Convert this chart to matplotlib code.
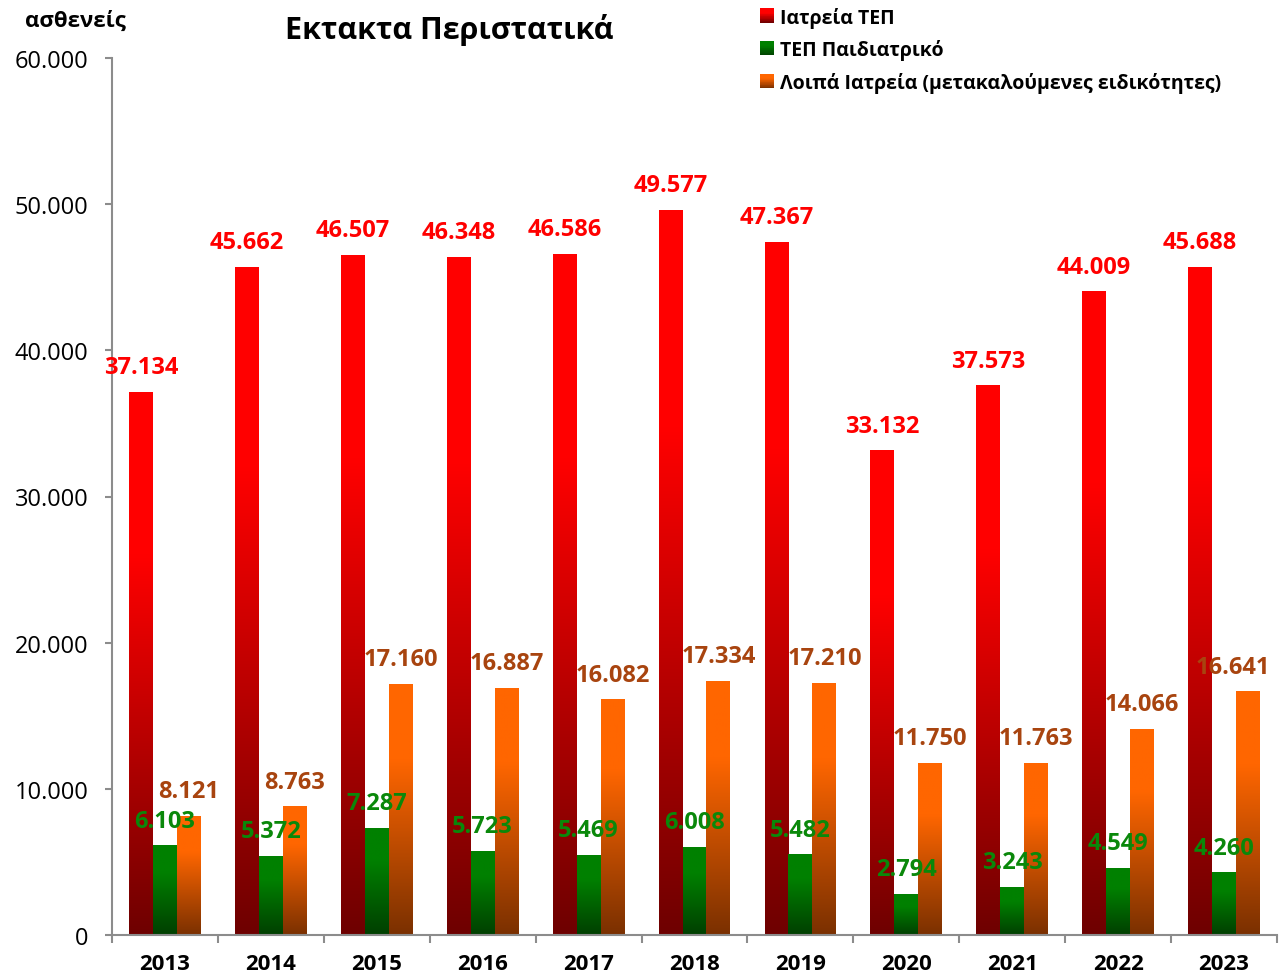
import numpy as np
import matplotlib
matplotlib.use("Agg")
import matplotlib.pyplot as plt
from matplotlib.colors import LinearSegmentedColormap
from matplotlib.patches import Rectangle, Patch
from matplotlib.ticker import FuncFormatter

plt.rcParams['font.family'] = ['Open Sans', 'DejaVu Sans']

years = ['2013', '2014', '2015', '2016', '2017', '2018', '2019', '2020', '2021', '2022', '2023']
iatreia_tep = [37134, 45662, 46507, 46348, 46586, 49577, 47367, 33132, 37573, 44009, 45688]
tep_paidiatriko = [6103, 5372, 7287, 5723, 5469, 6008, 5482, 2794, 3243, 4549, 4260]
loipa_iatreia = [8121, 8763, 17160, 16887, 16082, 17334, 17210, 11750, 11763, 14066, 16641]

series_names = ['Ιατρεία ΤΕΠ', 'ΤΕΠ Παιδιατρικό', 'Λοιπά Ιατρεία (μετακαλούμενες ειδικότητες)']

# bottom colour, top colour, label colour
styles = [
    ('#6e0000', '#ff0000', '#ff0000'),
    ('#003f00', '#008000', '#0a880a'),
    ('#7a3000', '#ff6600', '#a8440f'),
]


def makeCmap(dark, bright):
    return LinearSegmentedColormap.from_list('g', [(0, dark), (0.7, bright), (1, bright)])


class GradientHandler:
    def __init__(self, dark, bright):
        self.cmap = makeCmap(dark, bright)

    def legend_artist(self, legend, orig_handle, fontsize, handlebox):
        w, h = handlebox.width, handlebox.height
        n = 20
        for k in range(n):
            r = Rectangle((0, h * k / n), w, h / n + 0.2,
                          facecolor=self.cmap((k + 0.5) / n), edgecolor='none',
                          transform=handlebox.get_transform())
            handlebox.add_artist(r)
        return r


fig = plt.figure(figsize=(12.79, 9.78), dpi=100)
ax = fig.add_axes([112 / 1279, 42 / 978, 1165 / 1279, 877 / 978])

x = np.arange(len(years))
width = 0.226
allSeries = [iatreia_tep, tep_paidiatriko, loipa_iatreia]
offsets = [-width, 0, width]

for si, (values, off, (dark, bright, lab)) in enumerate(zip(allSeries, offsets, styles)):
    cmap = makeCmap(dark, bright)
    bars = ax.bar(x + off, values, width, color='none', edgecolor='none')
    grad = np.linspace(0, 1, 256).reshape(-1, 1)
    for i, (b, v) in enumerate(zip(bars, values)):
        ax.imshow(grad, extent=[b.get_x(), b.get_x() + b.get_width(), 0, v],
                  origin='lower', cmap=cmap, aspect='auto', zorder=2,
                  interpolation='bilinear')
        # last label is pushed inwards so it stays inside the chart
        dx = -11 if (si == 2 and i == len(values) - 1) else 0
        ax.annotate(f'{v:,}'.replace(',', '.'), (b.get_x() + b.get_width() / 2, v),
                    xytext=(dx, 9.5), textcoords='offset points', ha='center', va='bottom',
                    color=lab, fontsize=17, fontweight='bold', zorder=5)

ax.set_xlim(-0.5, len(years) - 0.5)
ax.set_ylim(0, 60000)
ax.set_yticks(np.arange(0, 60001, 10000))
ax.yaxis.set_major_formatter(FuncFormatter(lambda v, p: f'{int(v):,}'.replace(',', '.')))
ax.set_xticks(x)
ax.set_xticklabels(years, fontsize=16, fontweight='bold')
ax.set_xticks(np.arange(-0.5, len(years), 1), minor=True)

for s in ['top', 'right']:
    ax.spines[s].set_visible(False)
for s in ['left', 'bottom']:
    ax.spines[s].set_color('#8c8c8c')
    ax.spines[s].set_linewidth(1.5)

ax.tick_params(axis='y', colors='#8c8c8c', labelcolor='black', labelsize=17,
               length=5, width=1.5, pad=12)
ax.tick_params(axis='x', which='major', length=0, pad=13, labelcolor='black')
ax.tick_params(axis='x', which='minor', length=6, width=1.5, colors='#8c8c8c')

fig.text(449 / 1279, 1 - 30 / 978, 'Εκτακτα Περιστατικά', fontsize=22, fontweight='bold',
         ha='center', va='center')
fig.text(75 / 1279, 1 - 21 / 978, 'ασθενείς', fontsize=16, fontweight='bold',
         ha='center', va='center')

handles = [Patch() for _ in series_names]
handlerMap = {h: GradientHandler(st[0], st[1]) for h, st in zip(handles, styles)}
fig.legend(handles, series_names, loc='upper left', bbox_to_anchor=(752 / 1279, 1.0),
           frameon=False, prop={'size': 14, 'weight': 'bold'}, handler_map=handlerMap,
           handlelength=0.75, handleheight=0.75, handletextpad=0.3, labelspacing=0.6,
           borderaxespad=0.0)

fig.savefig('out.png', dpi=100)
